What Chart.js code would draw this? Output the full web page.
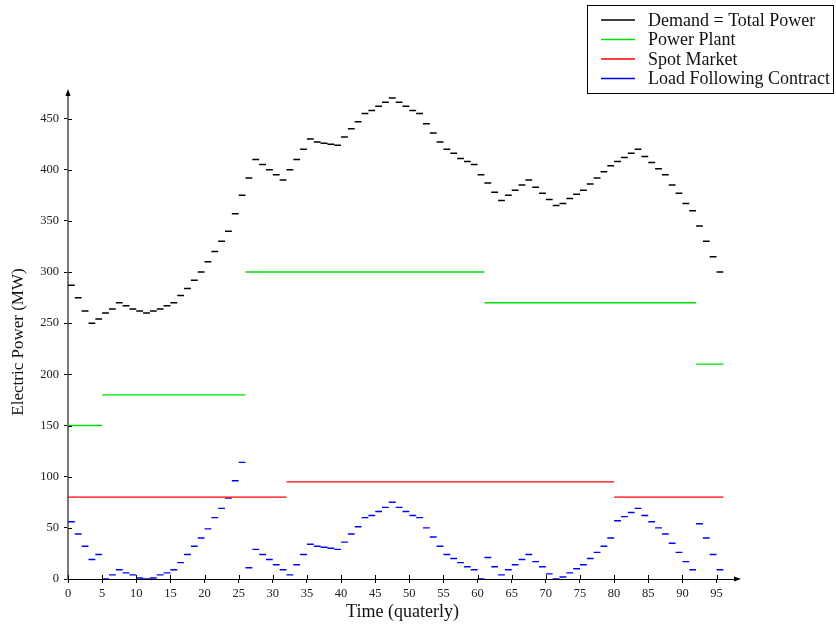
<!DOCTYPE html>
<html>
<head>
<meta charset="utf-8">
<title>Electric Power</title>
<script src="https://cdn.jsdelivr.net/npm/chart.js@4.4.0/dist/chart.umd.min.js"></script>
<style>
  html, body { margin: 0; padding: 0; background: #fff; }
  #chart-power { width: 836px; height: 626px; }
</style>
</head>
<body>
<div id="chart-power"></div>
<script>
// Demand per quarter (segment i spans quarter i .. i+1)
const demand = [
  287, 275, 262, 250, 254, 260, 264, 270, 267, 264,
  262, 260, 262, 264, 267, 270, 277, 284, 292, 300,
  310, 320, 330, 340, 357, 375, 392, 410, 405, 400,
  395, 390, 400, 410, 420, 430, 427, 426, 425, 424,
  432, 440, 447, 455, 458, 462, 466, 470, 466, 462,
  458, 455, 445, 436, 427, 420, 416, 411, 408, 405,
  395, 387, 378, 370, 375, 380, 385, 390, 383, 377,
  371, 365, 367, 372, 376, 380, 386, 392, 398, 404,
  408, 412, 416, 420, 413, 407, 401, 395, 385, 377,
  367, 360, 345, 330, 315, 300
];

// Load following contract per quarter
const loadFollowing = [
  56, 44, 32, 19, 24, 0, 4, 9, 6, 4,
  1, 0, 1, 4, 6, 9, 16, 24, 32, 40,
  49, 60, 69, 79, 96, 114, 11, 29, 24, 19,
  14, 9, 4, 14, 24, 34, 32, 31, 30, 29,
  36, 44, 51, 60, 62, 66, 70, 75, 70, 66,
  62, 60, 50, 41, 32, 24, 20, 16, 12, 9,
  0, 21, 12, 4, 9, 14, 19, 24, 17, 12,
  5, 0, 2, 6, 10, 14, 20, 26, 32, 40,
  57, 61, 65, 69, 62, 56, 50, 44, 35, 26,
  17, 9, 54, 40, 24, 9
];

// Power plant and spot market: constant blocks between breaks
const plantBreaks = [0, 5, 26, 61, 92, 96];
const plantValues = [150, 180, 300, 270, 210];
const spotBreaks = [0, 32, 80, 96];
const spotValues = [80, 95, 80];

const xTicks = [0, 5, 10, 15, 20, 25, 30, 35, 40, 45, 50, 55, 60, 65, 70, 75, 80, 85, 90, 95];
const yTicks = [0, 50, 100, 150, 200, 250, 300, 350, 400, 450];

const seriesLabels = ['Demand = Total Power', 'Power Plant', 'Spot Market', 'Load Following Contract'];
const seriesColors = ['#000000', '#00e000', '#ff0000', '#0000ff'];

// one horizontal piece per quarter, broken by a null
function quarterSegments(values) {
  const pts = [];
  values.forEach((v, i) => {
    pts.push({ x: i, y: v }, { x: i + 1, y: v }, { x: i + 1, y: null });
  });
  return pts;
}

function blockSegments(breaks, values) {
  const pts = [];
  values.forEach((v, i) => {
    pts.push({ x: breaks[i], y: v }, { x: breaks[i + 1], y: v }, { x: breaks[i + 1], y: null });
  });
  return pts;
}

const serif = '"Liberation Serif", "DejaVu Serif", serif';

// axis arrows, inner tick halves, axis titles and the boxed legend
const decorations = {
  id: 'decorations',
  afterDraw(chart) {
    const ctx = chart.ctx;
    const a = chart.chartArea;
    const xs = chart.scales.x;
    const ys = chart.scales.y;
    ctx.save();
    ctx.strokeStyle = '#000';
    ctx.lineWidth = 1;
    ctx.beginPath();
    xTicks.forEach(v => {
      const px = Math.round(xs.getPixelForValue(v)) + 0.5;
      ctx.moveTo(px, a.bottom);
      ctx.lineTo(px, a.bottom - 4);
    });
    yTicks.forEach(v => {
      const py = Math.round(ys.getPixelForValue(v)) + 0.5;
      ctx.moveTo(a.left, py);
      ctx.lineTo(a.left + 4, py);
    });
    ctx.stroke();

    ctx.fillStyle = '#000';
    ctx.beginPath();
    ctx.moveTo(a.right + 4, a.bottom);
    ctx.lineTo(a.right - 3, a.bottom - 2.5);
    ctx.lineTo(a.right - 3, a.bottom + 2.5);
    ctx.closePath();
    ctx.fill();
    ctx.beginPath();
    ctx.moveTo(a.left, a.top - 4);
    ctx.lineTo(a.left - 2.5, a.top + 3);
    ctx.lineTo(a.left + 2.5, a.top + 3);
    ctx.closePath();
    ctx.fill();

    ctx.fillStyle = '#111';
    ctx.font = '18px ' + serif;
    ctx.textAlign = 'center';
    ctx.textBaseline = 'middle';
    ctx.fillText('Time (quaterly)', (a.left + a.right) / 2, 612);
    ctx.save();
    ctx.translate(19, 342);
    ctx.rotate(-Math.PI / 2);
    ctx.font = '17px ' + serif;
    ctx.fillText('Electric Power (MW)', 0, 0);
    ctx.restore();

    // legend
    ctx.strokeStyle = '#000';
    ctx.lineWidth = 1;
    ctx.strokeRect(587.5, 5.5, 246, 88);
    ctx.font = '18px ' + serif;
    ctx.textAlign = 'left';
    const rows = [20, 39.5, 59, 78.5];
    seriesLabels.forEach((label, i) => {
      ctx.strokeStyle = seriesColors[i];
      ctx.lineWidth = 1.5;
      ctx.beginPath();
      ctx.moveTo(601, rows[i]);
      ctx.lineTo(635, rows[i]);
      ctx.stroke();
      ctx.fillStyle = '#111';
      ctx.fillText(label, 648, rows[i] + 1);
    });
    ctx.restore();
  }
};

const holder = document.getElementById('chart-power');
const canvas = document.createElement('canvas');
holder.appendChild(canvas);
const ctx = canvas.getContext('2d');

new Chart(ctx, {
  type: 'line',
  data: {
    datasets: [
      {
        label: seriesLabels[0],
        data: quarterSegments(demand),
        borderColor: seriesColors[0],
        borderWidth: 1.5,
      },
      {
        label: seriesLabels[1],
        data: blockSegments(plantBreaks, plantValues),
        borderColor: seriesColors[1],
        borderWidth: 1.4,
      },
      {
        label: seriesLabels[2],
        data: blockSegments(spotBreaks, spotValues),
        borderColor: seriesColors[2],
        borderWidth: 1.3,
      },
      {
        label: seriesLabels[3],
        data: quarterSegments(loadFollowing),
        borderColor: seriesColors[3],
        borderWidth: 1.4,
      },
    ],
  },
  options: {
    responsive: true,
    maintainAspectRatio: false,
    devicePixelRatio: 1,
    animation: false,
    spanGaps: false,
    elements: {
      point: { radius: 0, hoverRadius: 0 },
      line: { tension: 0, fill: false },
    },
    layout: {
      padding: { left: 0, top: 93, right: 99, bottom: 0 },
    },
    scales: {
      x: {
        type: 'linear',
        min: 0,
        max: 98,
        afterBuildTicks: s => { s.ticks = xTicks.map(v => ({ value: v })); },
        afterFit: s => { s.height = 47; },
        grid: { display: true, drawOnChartArea: false, tickLength: 4, color: '#000' },
        border: { display: true, color: '#000', width: 1 },
        ticks: {
          padding: 3,
          maxRotation: 0,
          autoSkip: false,
          color: '#222',
          font: { family: serif, size: 12.5 },
        },
      },
      y: {
        min: 0,
        max: 475,
        afterBuildTicks: s => { s.ticks = yTicks.map(v => ({ value: v })); },
        afterFit: s => { s.width = 68; },
        grid: { display: true, drawOnChartArea: false, tickLength: 4, color: '#000' },
        border: { display: true, color: '#777', width: 2 },
        ticks: {
          padding: 5,
          color: '#222',
          font: { family: serif, size: 12.5 },
        },
      },
    },
    plugins: {
      legend: { display: false },
      tooltip: { enabled: false },
      title: { display: false },
    },
  },
  plugins: [decorations],
});
</script>
</body>
</html>
